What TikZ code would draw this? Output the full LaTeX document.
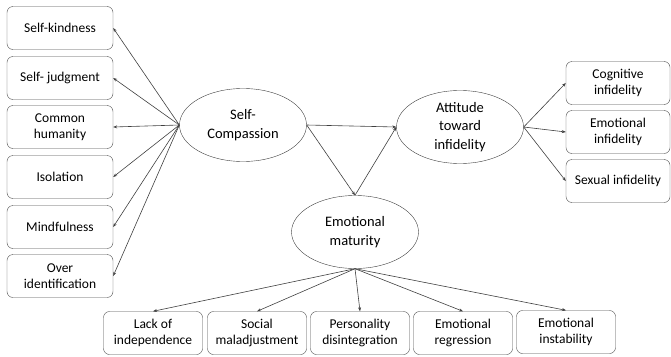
\documentclass[tikz,border=0pt]{standalone}
\usepackage{fontspec}
\setmainfont{Carlito}
\usetikzlibrary{shapes.geometric,arrows.meta}
\tikzstyle{item} = [draw=black!70, rounded corners=6pt, minimum width=106pt, minimum height=43pt, inner sep=0pt, align=center, font={\fontsize{13.5}{16.5}\selectfont}]
\tikzstyle{latent} = [draw=black!75, ellipse, minimum width=127pt, minimum height=73pt, inner sep=0pt, align=center, font={\fontsize{14.5}{18.5}\selectfont}]
\tikzstyle{link} = [draw=black!75, line width=0.6pt, -{Stealth[length=4pt,width=3pt]}]

\begin{document}
\begin{tikzpicture}[x=1pt,y=-1pt]
        \useasboundingbox (0,0) rectangle (671,356);
        % latent variables
        \node[latent](sc) at (243,125){Self-\\Compassion};
        \node[latent](att) at (460,127){Attitude\\toward\\infidelity};
        \node[latent](em) at (355,232){Emotional\\maturity};
        % self-compassion items
        \node[item](sk) at (60,28){Self-kindness};
        \node[item](sj) at (60,78){Self- judgment};
        \node[item](ch) at (60,127){Common\\humanity};
        \node[item](is) at (60,177){Isolation};
        \node[item](mf) at (60,227){Mindfulness};
        \node[item](oi) at (60,276){Over\\identification};
        % infidelity items
        \node[item,minimum width=104pt](ci) at (618,83){Cognitive\\infidelity};
        \node[item,minimum width=104pt](ei) at (618,132){Emotional\\infidelity};
        \node[item,minimum width=104pt](si) at (618,181){Sexual infidelity};
        % maturity items
        \node[item,minimum width=99pt](li) at (153,333){Lack of\\independence};
        \node[item,minimum width=99pt](sm) at (257,333){Social\\maladjustment};
        \node[item,minimum width=99pt](pd) at (360,333){Personality\\disintegration};
        \node[item,minimum width=99pt](er) at (463,333){Emotional\\regression};
        \node[item,minimum width=99pt](ein) at (566,332){Emotional\\instability};
        \foreach \t in {sk,sj,ch,is,mf,oi}
          \draw[link](sc.west)--(\t.east);
        \foreach \t in {ci,ei,si}
          \draw[link](att.east)--(\t.west);
        \foreach \t in {li,sm,pd,er,ein}
          \draw[link](em.south)--(\t.north);
        \draw[link](sc.east)--(att.west);
        \draw[link](sc.east)--(em.north);
        \draw[link](em.north)--(att.west);
      \end{tikzpicture}
\end{document}
